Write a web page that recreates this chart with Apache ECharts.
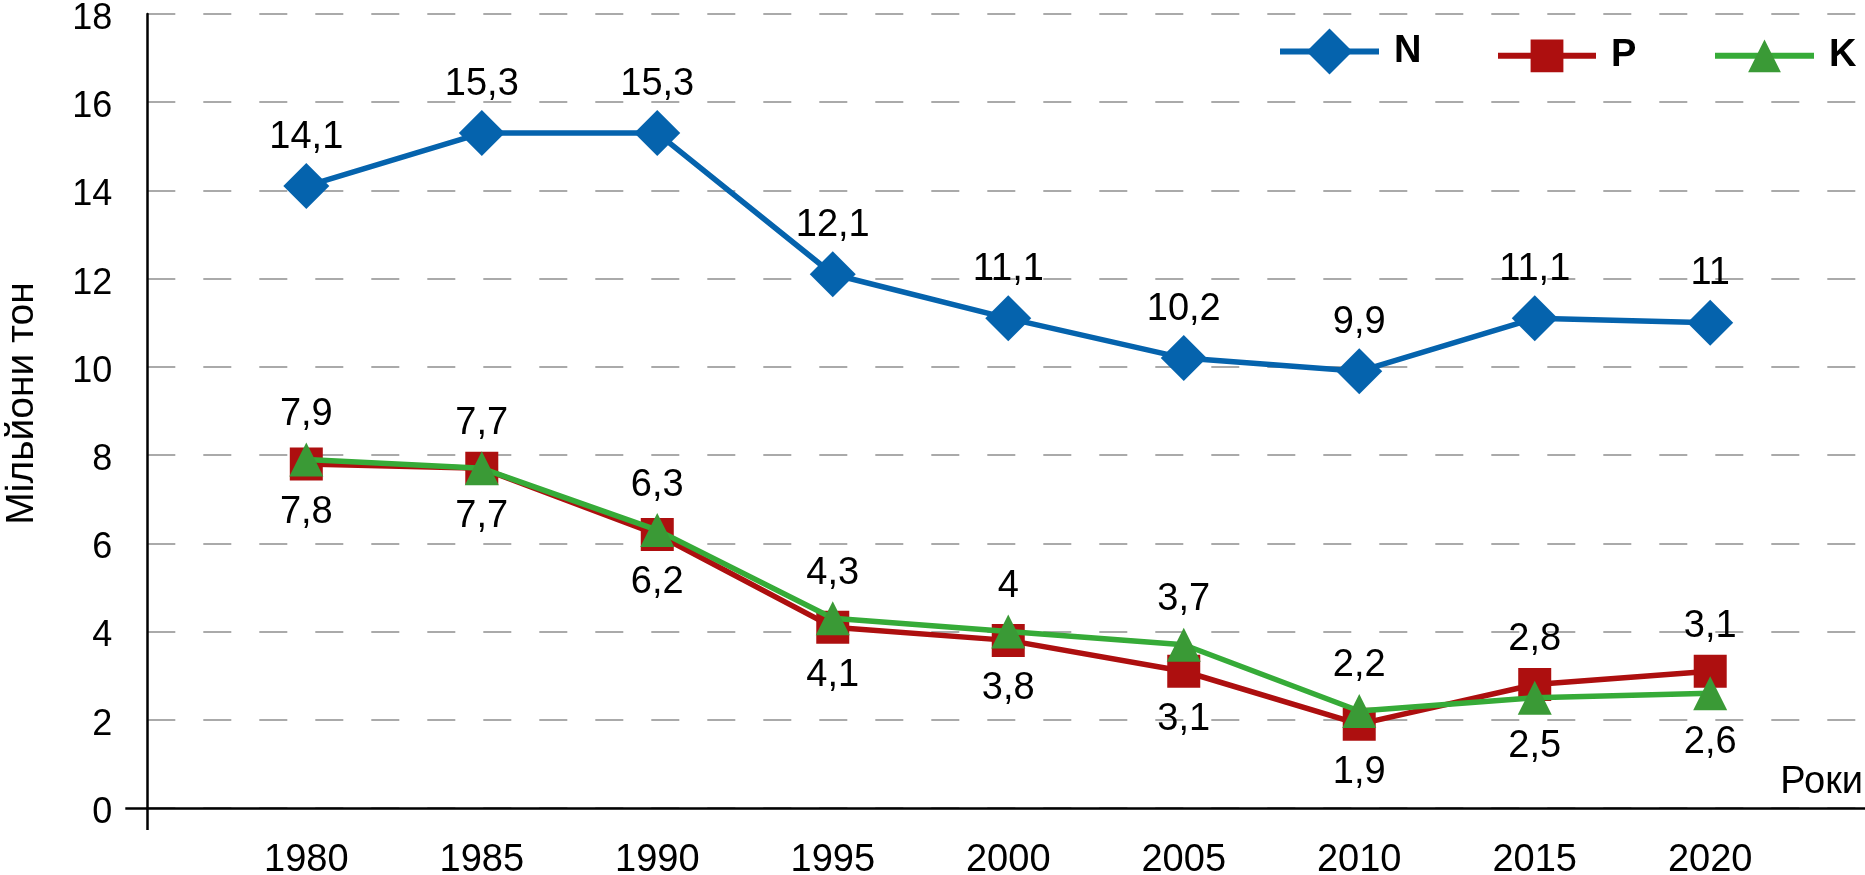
<!DOCTYPE html>
<html>
<head>
<meta charset="utf-8">
<script src="https://cdn.jsdelivr.net/npm/echarts@6/dist/echarts.min.js"></script>
<style>
html, body { margin: 0; padding: 0; background: #fff; }
#chart { width: 1865px; height: 875px; }
</style>
</head>
<body>
<div id="chart"></div>
<script>
// роки та дані (млн тон)
const years = [1980, 1985, 1990, 1995, 2000, 2005, 2010, 2015, 2020]
const nData = [14.1, 15.3, 15.3, 12.1, 11.1, 10.2, 9.9, 11.1, 11.0]
const pData = [7.8, 7.7, 6.2, 4.1, 3.8, 3.1, 1.9, 2.8, 3.1]
const kData = [7.9, 7.7, 6.3, 4.3, 4.0, 3.7, 2.2, 2.5, 2.6]

const FONT = 'Liberation Sans, Arial, sans-serif'
const xMin = 1975.47
const xMax = 2024.41

function fmt(v) {
	return String(v).replace('.', ',')
}

// підпис над вищою точкою, під нижчою
function pairData(own, other, ownWinsTie) {
	return years.map((y, i) => {
		const up = ownWinsTie ? own[i] >= other[i] : own[i] > other[i]
		return { value: [y, own[i]], label: { position: up ? 'top' : 'bottom', distance: up ? 9 : 13 } }
	})
}

const labelStyle = {
	show: true,
	color: '#000',
	fontSize: 38,
	fontFamily: FONT,
	formatter: p => fmt(p.value[1])
}

const legendText = { fontSize: 38, fontWeight: 'bold', fontFamily: FONT, color: '#000', padding: [0, 0, 0, 10] }

const myChart = echarts.init(document.getElementById('chart'))
const option = {
	animation: false,
	grid: { left: 147.3, right: 0, top: 14, bottom: 67, containLabel: false, outerBoundsMode: 'none' },
	xAxis: {
		type: 'value',
		min: xMin,
		max: xMax,
		splitLine: { show: false },
		axisLine: { lineStyle: { color: '#000', width: 2.5 } },
		axisTick: { show: true, customValues: [xMin], length: 22, lineStyle: { color: '#000', width: 2.5 } },
		axisLabel: {
			customValues: years,
			color: '#000',
			fontSize: 38,
			fontFamily: FONT,
			margin: 34,
			formatter: v => String(v)
		}
	},
	yAxis: [
		{
			type: 'value',
			min: 0,
			max: 18,
			interval: 2,
			position: 'left',
			name: 'Мільйони тон',
			nameLocation: 'middle',
			nameGap: 106,
			nameTextStyle: { color: '#000', fontSize: 39, fontFamily: FONT, padding: [0, 0, 0, 15] },
			axisLine: { show: true, lineStyle: { color: '#000', width: 2.5 } },
			axisTick: { show: false },
			axisLabel: {
				margin: 35,
				formatter: v => '{t|' + v + '}',
				rich: { t: { color: '#000', fontSize: 36, fontFamily: FONT, padding: [10, 0, 0, 0] } }
			},
			splitLine: { show: true, lineStyle: { color: '#aaaaaa', width: 2, type: [28, 28] } }
		},
		{
			// лише короткий штрих ліворуч від нуля
			type: 'value',
			min: 0,
			max: 18,
			position: 'left',
			axisLine: { show: false },
			axisLabel: { show: false },
			splitLine: { show: false },
			axisTick: { show: true, customValues: [0], length: 22, lineStyle: { color: '#000', width: 2.5 } }
		}
	],
	legend: [
		{ data: ['N'], left: 1277, top: 28.5, padding: 0, itemWidth: 99, itemHeight: 57.5,
			lineStyle: { width: 6 }, textStyle: legendText },
		{ data: ['P'], left: 1495, top: 36.8, padding: 0, itemWidth: 98, itemHeight: 41,
			lineStyle: { width: 6 }, textStyle: legendText },
		{ data: ['K'], left: 1712, top: 36.8, padding: 0, itemWidth: 99, itemHeight: 41,
			lineStyle: { width: 6 }, textStyle: legendText }
	],
	graphic: [
		{ type: 'text', right: 2, top: 764,
			style: { text: 'Роки', fontSize: 38, fontFamily: FONT, fill: '#000' } }
	],
	series: [
		{
			name: 'N',
			type: 'line',
			data: years.map((y, i) => [y, nData[i]]),
			symbol: 'diamond',
			symbolSize: 46,
			itemStyle: { color: '#0563ad' },
			lineStyle: { color: '#0563ad', width: 5.5 },
			label: Object.assign({}, labelStyle, { position: 'top', distance: 7 }),
			z: 3
		},
		{
			name: 'P',
			type: 'line',
			data: pairData(pData, kData, false),
			symbol: 'rect',
			symbolSize: 33,
			itemStyle: { color: '#ad0f0f' },
			lineStyle: { color: '#ad0f0f', width: 5.5 },
			label: labelStyle,
			z: 2
		},
		{
			name: 'K',
			type: 'line',
			data: pairData(kData, pData, true),
			symbol: 'triangle',
			symbolSize: 34,
			itemStyle: { color: '#3a9a36' },
			lineStyle: { color: '#36ab38', width: 5.5 },
			label: labelStyle,
			z: 4
		}
	]
}
myChart.setOption(option)
</script>
</body>
</html>
